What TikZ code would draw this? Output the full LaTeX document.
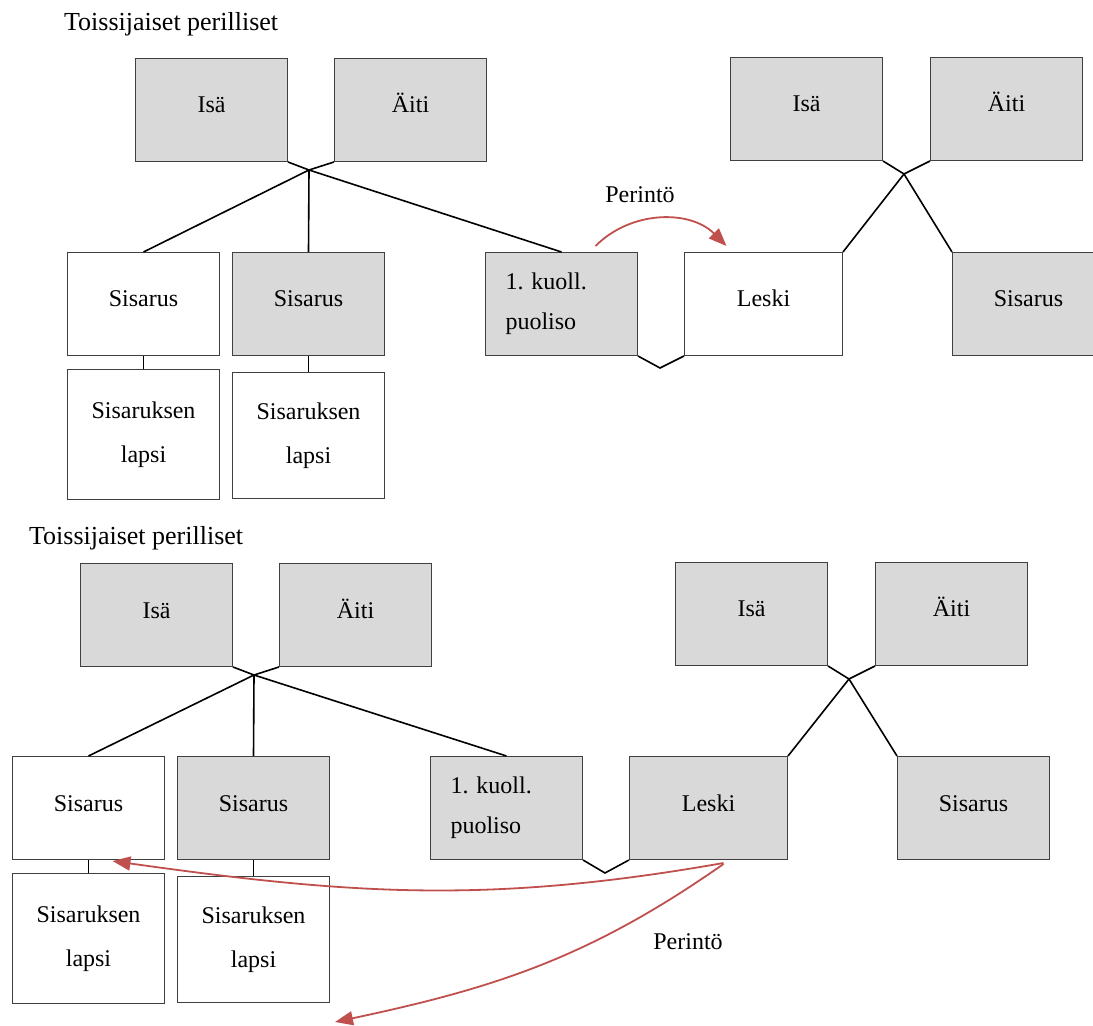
\documentclass[tikz,border=0pt]{standalone}
\usepackage{fontspec}
\setmainfont{Liberation Serif}
\usetikzlibrary{positioning,arrows.meta}
\definecolor{boxgray}{HTML}{D9D9D9}
\definecolor{arrowred}{HTML}{C0504D}
\frenchspacing
\tikzset{
  box/.style={draw=black!75, line width=0.5pt, fill=white, minimum width=76pt,
    minimum height=51.5pt, inner sep=0pt, align=center, font=\fontsize{12}{22}\selectfont},
  wbox/.style={box, text height=8pt, text depth=5pt},
  gbox/.style={wbox, fill=boxgray},
  link/.style={draw, line width=0.8pt},
  inherit/.style={color=arrowred, line width=0.9pt, -{Triangle[length=9pt,width=7pt]}},
  lbl/.style={font=\fontsize{12}{14}\selectfont}
}
\begin{document}
\begin{tikzpicture}[x=0.5pt, y=-0.5pt, node distance=2cm]
\useasboundingbox (0,0) rectangle (1093,1026);

% ylempi kaavio
\node (t1) [anchor=west, font=\fontsize{13}{15}\selectfont] at (57,24) {Toissijaiset perilliset};
\node (1) [gbox, anchor=north west] at (135,58) {Isä};
\node (2) [gbox, right=23pt of 1] {Äiti};
\node (3) [wbox, anchor=north west] at (67,252) {Sisarus};
\node (4) [gbox, right=6pt of 3] {Sisarus};
\node (5) [box, minimum height=65pt, below=6.5pt of 3] {Sisaruksen\\lapsi};
\node (6) [box, minimum height=63pt, below=8pt of 4] {Sisaruksen\\lapsi};
\node (7) [box, fill=boxgray, anchor=north west, text width=56pt, align=left,
  font=\fontsize{12}{20}\selectfont] at (485,252) {1. kuoll.\\puoliso};
\node (8) [wbox, minimum width=79pt, right=23pt of 7] {Leski};
\node (9) [gbox, anchor=north west] at (730,57) {Isä};
\node (10) [gbox, right=23.5pt of 9] {Äiti};
\node (11) [gbox, anchor=north west] at (952,252) {Sisarus};
\node (p1) [lbl] at (640,195) {Perintö};

\coordinate (j1) at (309,170);
\coordinate (v1) at (660,368);
\coordinate (j2) at (904,174);

\path [link] (1.south east) -- (j1) -- (2.south west);
\path [link] (j1) edge (3.north);
\path [link] (j1) edge (4.north);
\path [link] (j1) edge (7.north);
\path [link] (3.south) edge (5.north);
\path [link] (4.south) edge (6.north);
\path [link] (7.south east) -- (v1) -- (8.south west);
\path [link] (9.south east) -- (j2) -- (10.south west);
\path [link] (j2) edge (8.north east);
\path [link] (j2) edge (11.north west);

\draw [inherit] ([shift={(17pt,3pt)}]7.north) to [bend left=45] ([shift={(-18.5pt,3pt)}]8.north);

% alempi kaavio
\node (t2) [anchor=west, font=\fontsize{13}{15}\selectfont] at (22,538) {Toissijaiset perilliset};
\node (13) [gbox, anchor=north west] at (80,563) {Isä};
\node (14) [gbox, right=23pt of 13] {Äiti};
\node (15) [wbox, anchor=north west] at (12,756) {Sisarus};
\node (16) [gbox, right=6pt of 15] {Sisarus};
\node (17) [box, minimum height=65pt, below=6.5pt of 15] {Sisaruksen\\lapsi};
\node (18) [box, minimum height=63pt, below=8pt of 16] {Sisaruksen\\lapsi};
\node (19) [box, fill=boxgray, anchor=north west, text width=56pt, align=left,
  font=\fontsize{12}{20}\selectfont] at (430,756) {1. kuoll.\\puoliso};
\node (20) [gbox, minimum width=79pt, right=23pt of 19] {Leski};
\node (21) [gbox, anchor=north west] at (675,562) {Isä};
\node (22) [gbox, right=23.5pt of 21] {Äiti};
\node (23) [gbox, anchor=north west] at (897,756) {Sisarus};
\node (p2) [lbl] at (688,942) {Perintö};

\coordinate (j3) at (254,675);
\coordinate (v2) at (605,873);
\coordinate (j4) at (849,679);
\coordinate (e) at (335,1022);

\path [link] (13.south east) -- (j3) -- (14.south west);
\path [link] (j3) edge (15.north);
\path [link] (j3) edge (16.north);
\path [link] (j3) edge (19.north);
\path [link] (15.south) edge (17.north);
\path [link] (16.south) edge (18.north);
\path [link] (19.south east) -- (v2) -- (20.south west);
\path [link] (21.south east) -- (j4) -- (22.south west);
\path [link] (j4) edge (20.north east);
\path [link] (j4) edge (23.north west);

\draw [inherit] ([shift={(7.5pt,-1.5pt)}]20.south) to [out=190, in=-8] ([shift={(12pt,-0.5pt)}]15.south);
\draw [inherit] ([shift={(7.5pt,-2pt)}]20.south) to [out=215, in=12] (e);

\end{tikzpicture}
\end{document}
